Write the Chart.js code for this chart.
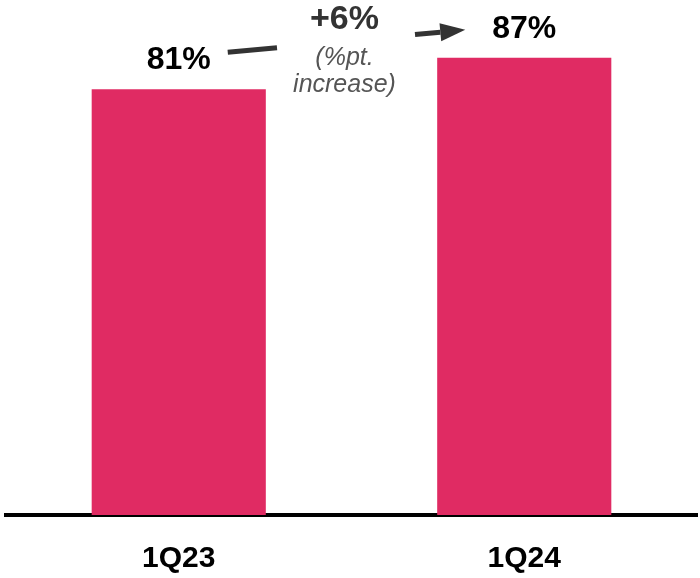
<!DOCTYPE html>
<html>
<head>
<meta charset="utf-8">
<script src="https://cdn.jsdelivr.net/npm/chart.js@4.4.1/dist/chart.umd.min.js"></script>
<style>
  html, body { margin: 0; padding: 0; background: #fff; }
  #wrap { width: 700px; height: 578px; }
</style>
</head>
<body>
<div id="wrap"><canvas id="barChart"></canvas></div>
<script>
// Data
const categories = ["1Q23", "1Q24"];
const values = [81, 87];
const valueLabels = ["81%", "87%"];
const changeLabel = "+6%";
const changeNote = ["(%pt.", "increase)"];

const barColor = "#E02B63";
const fontName = "'Liberation Sans', Arial, sans-serif";

// Labels above bars, plus the arrow with the change in the middle
const labelPlugin = {
    id: "labelPlugin",
    afterDatasetsDraw(chart) {
        const ctx = chart.ctx;
        const bars = chart.getDatasetMeta(0).data;
        ctx.save();

        ctx.fillStyle = "#000";
        ctx.font = "bold 32px " + fontName;
        ctx.textAlign = "center";
        ctx.textBaseline = "alphabetic";
        bars.forEach((bar, i) => {
            ctx.fillText(valueLabels[i], bar.x, bar.y - 20);
        });

        // arrow from first label to second one
        const b1 = bars[0], b2 = bars[1];
        const x1 = b1.x + 49, y1 = b1.y - 37;
        const x2 = b2.x - 59, y2 = b2.y - 28;
        const gapStart = 277, gapEnd = 415;
        const yAt = x => y1 + (y2 - y1) * (x - x1) / (x2 - x1);
        const headLen = 25;
        const ang = Math.atan2(y2 - y1, x2 - x1);
        const hx = x2 - headLen * Math.cos(ang), hy = y2 - headLen * Math.sin(ang);

        ctx.strokeStyle = "#333";
        ctx.lineWidth = 5;
        ctx.beginPath();
        ctx.moveTo(x1, y1);
        ctx.lineTo(gapStart, yAt(gapStart));
        ctx.moveTo(gapEnd, yAt(gapEnd));
        ctx.lineTo(hx, hy);
        ctx.stroke();

        ctx.fillStyle = "#333";
        ctx.beginPath();
        ctx.moveTo(x2, y2);
        ctx.lineTo(hx + 9 * Math.sin(ang), hy - 9 * Math.cos(ang));
        ctx.lineTo(hx - 9 * Math.sin(ang), hy + 9 * Math.cos(ang));
        ctx.closePath();
        ctx.fill();

        // change text
        const mx = (b1.x + b2.x) / 2 - 7;
        ctx.fillStyle = "#333";
        ctx.font = "bold 34px " + fontName;
        ctx.fillText(changeLabel, mx, b2.y - 29);
        ctx.fillStyle = "#555";
        ctx.font = "italic 25px " + fontName;
        ctx.fillText(changeNote[0], mx, b2.y + 7);
        ctx.fillText(changeNote[1], mx, b2.y + 34);

        ctx.restore();
    }
};

new Chart(document.getElementById("barChart"), {
    type: "bar",
    data: {
        labels: categories,
        datasets: [{
            data: values,
            backgroundColor: barColor,
            categoryPercentage: 1,
            barPercentage: 0.504
        }]
    },
    options: {
        responsive: true,
        maintainAspectRatio: false,
        animation: false,
        layout: { padding: { left: 6, right: 3, top: 0, bottom: 0 } },
        plugins: {
            legend: { display: false },
            tooltip: { enabled: false }
        },
        scales: {
            x: {
                grid: { display: false },
                border: { display: true, color: "#000", width: 4 },
                ticks: {
                    color: "#000",
                    padding: 18,
                    font: { family: fontName, size: 30, weight: "bold" }
                },
                afterFit(scale) {
                    scale.height = 63;
                }
            },
            y: {
                display: false,
                min: 0,
                max: 98
            }
        }
    },
    plugins: [labelPlugin]
});
</script>
</body>
</html>
